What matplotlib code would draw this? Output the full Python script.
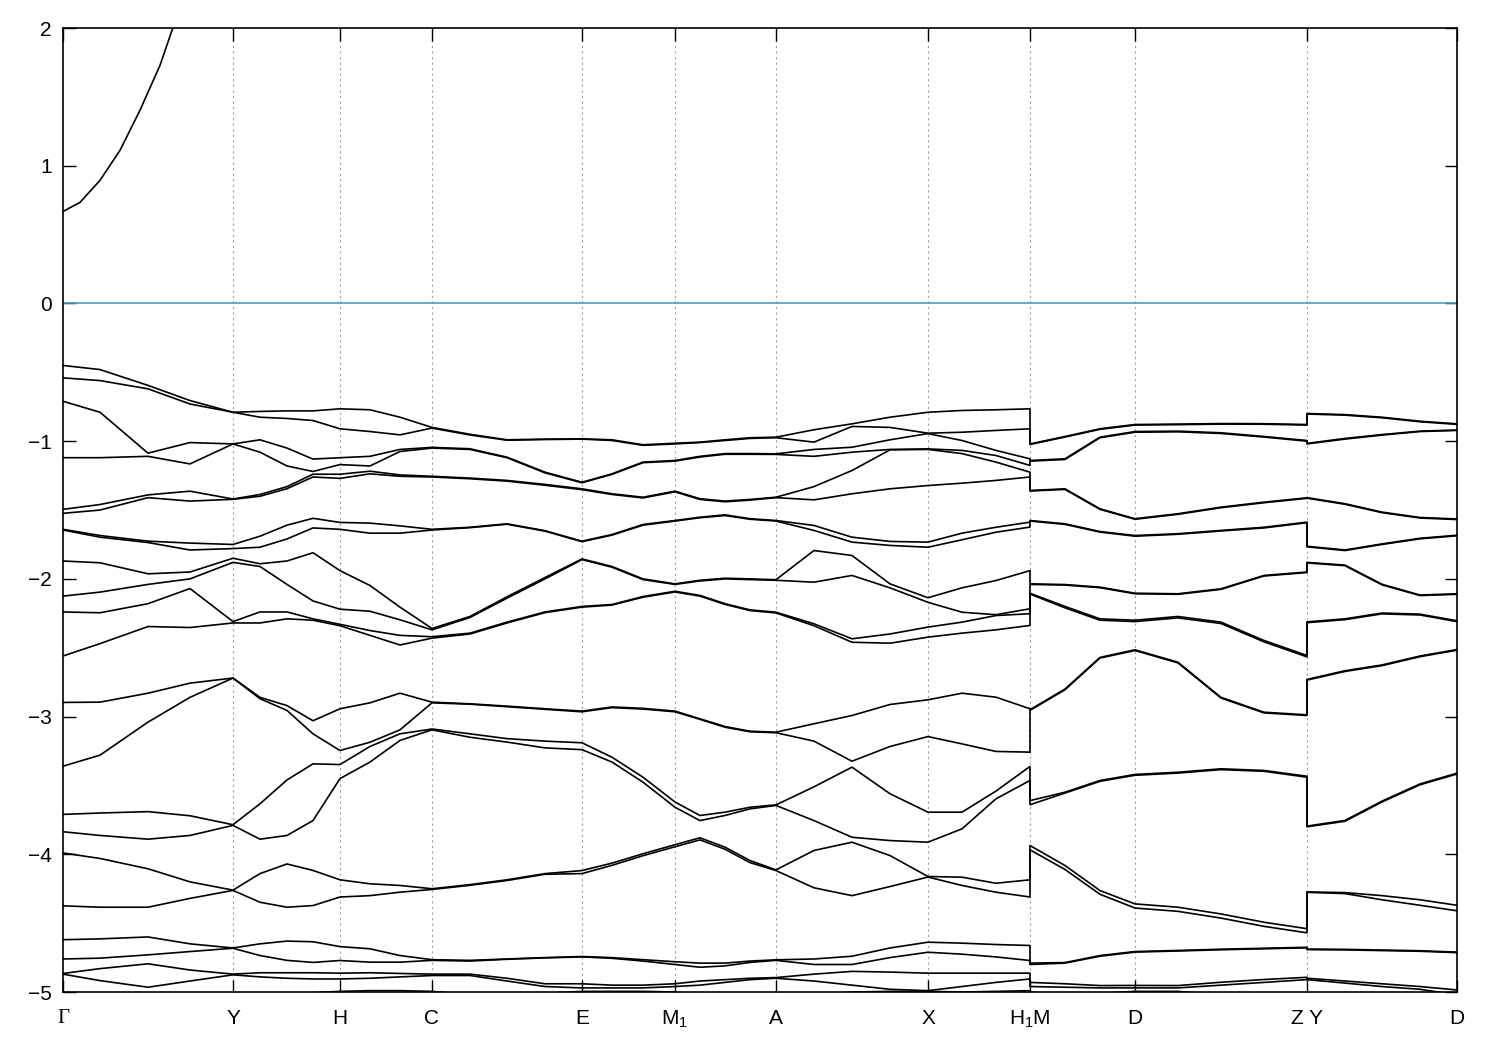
import matplotlib
matplotlib.use("Agg")
import matplotlib.pyplot as plt

plt.rcParams['font.family'] = ['Liberation Sans', 'DejaVu Sans']
plt.rcParams['mathtext.fontset'] = 'custom'
plt.rcParams['mathtext.rm'] = 'Liberation Sans'
plt.rcParams['mathtext.it'] = 'Liberation Sans'

# high symmetry points along the path
kpts = [0.000, 0.170, 0.277, 0.369, 0.519, 0.612, 0.713, 0.865, 0.967, 1.072, 1.244, 1.394]
klabels = ['Γ', 'Y', 'H', 'C', 'E', r'M$_1$', 'A', 'X', r'H$_1$M', 'D', 'Z Y', 'D']

# sample positions (H1|M and Z|Y are repeated: path break)
k_cols = [0.000, 0.037, 0.085, 0.127, 0.170,
          0.197, 0.224, 0.250, 0.277,
          0.307, 0.337, 0.369,
          0.407, 0.444, 0.482, 0.519,
          0.549, 0.580, 0.612,
          0.637, 0.662, 0.687, 0.713,
          0.751, 0.789, 0.827, 0.865,
          0.899, 0.933, 0.967,
          0.967, 1.002, 1.037, 1.072,
          1.115, 1.158, 1.201, 1.244,
          1.244, 1.282, 1.319, 1.357, 1.394]

# conduction band near Gamma
cb_k = [0.000, 0.017, 0.037, 0.057, 0.077, 0.097, 0.109, 0.127]
cb_E = [0.668, 0.734, 0.894, 1.112, 1.403, 1.729, 1.983, 2.4]

band1 = [-0.45, -0.48, -0.595, -0.705, -0.79,
         -0.784, -0.78, -0.78, -0.765,
         -0.772, -0.826, -0.90,
         -0.95, -0.99, -0.985, -0.983,
         -0.99, -1.026, -1.015,
         -1.007, -0.99, -0.975, -0.971,
         -0.917, -0.874, -0.826, -0.79,
         -0.777, -0.772, -0.765,
         -1.02, -0.966, -0.91, -0.879,
         -0.876, -0.872, -0.873, -0.879,
         -0.799, -0.807, -0.826, -0.855, -0.874]
band2 = [-0.54, -0.56, -0.62, -0.73, -0.79,
         -0.826, -0.835, -0.85, -0.91,
         -0.93, -0.954, -0.905,
         -0.955, -0.993, -0.988, -0.985,
         -0.995, -1.03, -1.02,
         -1.01, -0.995, -0.98, -0.975,
         -1.007, -0.893, -0.90, -0.942,
         -0.935, -0.922, -0.91,
         -1.024, -0.97, -0.914, -0.883,
         -0.88, -0.876, -0.877, -0.883,
         -0.803, -0.811, -0.83, -0.859, -0.878]
band3 = [-0.71, -0.79, -1.087, -1.01, -1.02,
         -0.99, -1.05, -1.13, -1.12,
         -1.11, -1.06, -1.045,
         -1.055, -1.116, -1.225, -1.298,
         -1.237, -1.152, -1.14,
         -1.11, -1.09, -1.09, -1.092,
         -1.06, -1.044, -0.99, -0.945,
         -0.995, -1.067, -1.128,
         -1.14, -1.128, -0.971, -0.93,
         -0.927, -0.939, -0.966, -0.995,
         -1.016, -0.98, -0.952, -0.927, -0.919]
band4 = [-1.12, -1.12, -1.11, -1.165, -1.02,
         -1.08, -1.18, -1.22, -1.17,
         -1.18, -1.075, -1.05,
         -1.06, -1.12, -1.23, -1.302,
         -1.241, -1.156, -1.145,
         -1.115, -1.095, -1.095, -1.096,
         -1.11, -1.08, -1.06, -1.056,
         -1.067, -1.104, -1.176,
         -1.145, -1.133, -0.975, -0.935,
         -0.932, -0.944, -0.97, -1.0,
         -1.02, -0.985, -0.956, -0.93, -0.922]
band5 = [-1.495, -1.46, -1.39, -1.363, -1.42,
         -1.387, -1.33, -1.24, -1.24,
         -1.218, -1.245, -1.255,
         -1.268, -1.285, -1.314, -1.346,
         -1.382, -1.407, -1.363,
         -1.418, -1.435, -1.423, -1.407,
         -1.33, -1.213, -1.063, -1.06,
         -1.09, -1.152, -1.225,
         -1.358, -1.346, -1.491, -1.563,
         -1.527, -1.479, -1.443, -1.411,
         -1.41, -1.454, -1.515, -1.554, -1.565]
band6 = [-1.524, -1.50, -1.41, -1.435, -1.422,
         -1.40, -1.345, -1.26, -1.27,
         -1.237, -1.255, -1.26,
         -1.273, -1.29, -1.32, -1.352,
         -1.387, -1.412, -1.368,
         -1.423, -1.44, -1.428, -1.41,
         -1.426, -1.382, -1.346, -1.322,
         -1.305, -1.285, -1.26,
         -1.362, -1.35, -1.495, -1.567,
         -1.531, -1.483, -1.447, -1.415,
         -1.414, -1.458, -1.519, -1.558, -1.569]
band7 = [-1.64, -1.685, -1.726, -1.74, -1.75,
         -1.69, -1.61, -1.56, -1.59,
         -1.595, -1.615, -1.64,
         -1.625, -1.60, -1.65, -1.726,
         -1.678, -1.605, -1.576,
         -1.552, -1.535, -1.563, -1.576,
         -1.612, -1.697, -1.728, -1.733,
         -1.668, -1.625, -1.588,
         -1.576, -1.60, -1.656, -1.685,
         -1.672, -1.648, -1.625, -1.588,
         -1.763, -1.79, -1.746, -1.705, -1.683]
band8 = [-1.645, -1.697, -1.736, -1.79, -1.78,
         -1.77, -1.71, -1.63, -1.64,
         -1.668, -1.668, -1.645,
         -1.628, -1.603, -1.653, -1.73,
         -1.682, -1.61, -1.58,
         -1.556, -1.54, -1.567, -1.58,
         -1.648, -1.733, -1.757, -1.77,
         -1.716, -1.661, -1.624,
         -1.58, -1.604, -1.66, -1.69,
         -1.676, -1.652, -1.63, -1.592,
         -1.767, -1.794, -1.75, -1.709, -1.687]
band9 = [-1.87, -1.883, -1.963, -1.95, -1.85,
         -1.89, -1.87, -1.81, -1.94,
         -2.048, -2.205, -2.36,
         -2.273, -2.13, -1.99, -1.855,
         -1.91, -2.0, -2.036,
         -2.01, -1.995, -2.0, -2.006,
         -1.794, -1.83, -2.036, -2.137,
         -2.065, -2.012, -1.94,
         -2.036, -2.041, -2.06, -2.104,
         -2.108, -2.072, -1.975, -1.95,
         -1.88, -1.90, -2.039, -2.117, -2.108]
band10 = [-2.125, -2.096, -2.04, -2.0, -1.88,
          -1.91, -2.04, -2.16, -2.22,
          -2.235, -2.297, -2.37,
          -2.28, -2.14, -2.0, -1.86,
          -1.915, -2.005, -2.04,
          -2.015, -2.0, -2.005, -2.01,
          -2.024, -1.975, -2.065, -2.17,
          -2.242, -2.26, -2.217,
          -2.04, -2.045, -2.064, -2.108,
          -2.112, -2.076, -1.979, -1.954,
          -1.884, -1.904, -2.043, -2.121, -2.112]
band11 = [-2.24, -2.246, -2.18, -2.07, -2.31,
          -2.24, -2.24, -2.29, -2.33,
          -2.375, -2.41, -2.42,
          -2.394, -2.314, -2.24, -2.2,
          -2.186, -2.128, -2.09,
          -2.12, -2.18, -2.225, -2.242,
          -2.326, -2.435, -2.40, -2.35,
          -2.314, -2.266, -2.253,
          -2.104, -2.20, -2.29, -2.30,
          -2.273, -2.314, -2.447, -2.556,
          -2.312, -2.29, -2.248, -2.256, -2.304]
band12 = [-2.56, -2.47, -2.346, -2.353, -2.32,
          -2.32, -2.29, -2.30, -2.34,
          -2.41, -2.48, -2.43,
          -2.40, -2.32, -2.245, -2.205,
          -2.19, -2.133, -2.095,
          -2.125, -2.185, -2.23, -2.247,
          -2.34, -2.46, -2.467, -2.423,
          -2.394, -2.37, -2.338,
          -2.11, -2.21, -2.30, -2.31,
          -2.283, -2.324, -2.457, -2.566,
          -2.318, -2.296, -2.254, -2.262, -2.31]
band13 = [-2.897, -2.895, -2.83, -2.757, -2.72,
          -2.86, -2.92, -3.03, -2.943,
          -2.90, -2.83, -2.895,
          -2.907, -2.924, -2.943, -2.96,
          -2.93, -2.94, -2.96,
          -3.016, -3.072, -3.106, -3.113,
          -3.052, -2.992, -2.912, -2.878,
          -2.83, -2.859, -2.943,
          -2.95, -2.80, -2.57, -2.515,
          -2.605, -2.86, -2.968, -2.987,
          -2.73, -2.667, -2.625, -2.56, -2.513]
band14 = [-3.36, -3.28, -3.04, -2.86, -2.72,
          -2.87, -2.955, -3.125, -3.246,
          -3.186, -3.096, -2.90,
          -2.91, -2.928, -2.947, -2.965,
          -2.935, -2.945, -2.965,
          -3.02, -3.077, -3.11, -3.117,
          -3.178, -3.324, -3.217, -3.145,
          -3.198, -3.253, -3.258,
          -2.955, -2.805, -2.575, -2.52,
          -2.61, -2.865, -2.973, -2.992,
          -2.735, -2.672, -2.63, -2.565, -2.518]
band15 = [-3.71, -3.70, -3.69, -3.72, -3.785,
          -3.633, -3.46, -3.343, -3.348,
          -3.217, -3.125, -3.09,
          -3.125, -3.16, -3.178, -3.19,
          -3.295, -3.44, -3.62,
          -3.718, -3.694, -3.658, -3.641,
          -3.51, -3.367, -3.56, -3.694,
          -3.694, -3.541, -3.362,
          -3.61, -3.549, -3.464, -3.42,
          -3.404, -3.379, -3.391, -3.433,
          -3.795, -3.754, -3.614, -3.489, -3.411]
band16 = [-3.836, -3.863, -3.89, -3.863, -3.79,
          -3.89, -3.863, -3.755, -3.45,
          -3.33, -3.173, -3.096,
          -3.15, -3.185, -3.227, -3.24,
          -3.33, -3.476, -3.658,
          -3.755, -3.718, -3.67, -3.645,
          -3.755, -3.876, -3.90, -3.912,
          -3.815, -3.597, -3.464,
          -3.64, -3.555, -3.47, -3.426,
          -3.41, -3.385, -3.397, -3.44,
          -3.80, -3.76, -3.62, -3.495, -3.417]
band17 = [-3.99, -4.03, -4.105, -4.2, -4.26,
          -4.14, -4.07, -4.117, -4.185,
          -4.214, -4.226, -4.25,
          -4.22, -4.185, -4.14, -4.118,
          -4.064, -3.996, -3.93,
          -3.88, -3.948, -4.045, -4.113,
          -3.972, -3.912, -4.009, -4.161,
          -4.166, -4.21, -4.185,
          -3.936, -4.081, -4.263, -4.36,
          -4.384, -4.433, -4.493, -4.54,
          -4.273, -4.278, -4.30, -4.33, -4.37]
band18 = [-4.374, -4.384, -4.384, -4.32, -4.262,
          -4.348, -4.384, -4.372, -4.31,
          -4.30, -4.275, -4.255,
          -4.225, -4.19, -4.145, -4.14,
          -4.08, -4.01, -3.945,
          -3.895, -3.963, -4.06, -4.118,
          -4.243, -4.30, -4.234, -4.165,
          -4.226, -4.275, -4.31,
          -3.967, -4.11, -4.29, -4.39,
          -4.414, -4.463, -4.523, -4.57,
          -4.276, -4.285, -4.33, -4.37, -4.41]
band19 = [-4.62, -4.614, -4.60, -4.65, -4.68,
          -4.65, -4.63, -4.635, -4.67,
          -4.686, -4.735, -4.765,
          -4.77, -4.76, -4.75, -4.742,
          -4.75, -4.765, -4.78,
          -4.79, -4.79, -4.775, -4.766,
          -4.76, -4.74, -4.68, -4.638,
          -4.645, -4.655, -4.662,
          -4.79, -4.786, -4.735, -4.706,
          -4.698, -4.689, -4.682, -4.675,
          -4.688, -4.69, -4.695, -4.70, -4.71]
band20 = [-4.76, -4.754, -4.73, -4.706, -4.682,
          -4.735, -4.77, -4.785, -4.771,
          -4.783, -4.783, -4.77,
          -4.775, -4.762, -4.752, -4.745,
          -4.755, -4.775, -4.80,
          -4.82, -4.81, -4.785, -4.77,
          -4.80, -4.80, -4.75, -4.711,
          -4.725, -4.745, -4.771,
          -4.80, -4.79, -4.74, -4.71,
          -4.702, -4.693, -4.686, -4.679,
          -4.692, -4.694, -4.699, -4.704, -4.714]
band21 = [-4.865, -4.83, -4.795, -4.84, -4.87,
          -4.86, -4.86, -4.86, -4.863,
          -4.86, -4.865, -4.87,
          -4.87, -4.90, -4.94, -4.94,
          -4.95, -4.95, -4.94,
          -4.92, -4.91, -4.90, -4.895,
          -4.87, -4.85, -4.855, -4.863,
          -4.863, -4.863, -4.863,
          -4.93, -4.94, -4.953, -4.952,
          -4.953, -4.929, -4.909, -4.893,
          -4.90, -4.92, -4.94, -4.96, -4.985]
band22 = [-4.87, -4.917, -4.965, -4.92, -4.875,
          -4.89, -4.90, -4.905, -4.905,
          -4.90, -4.89, -4.88,
          -4.88, -4.92, -4.96, -4.97,
          -4.97, -4.97, -4.96,
          -4.95, -4.93, -4.91, -4.90,
          -4.92, -4.95, -4.98, -4.99,
          -4.96, -4.93, -4.905,
          -4.96, -4.965, -4.97, -4.97,
          -4.97, -4.95, -4.93, -4.91,
          -4.91, -4.935, -4.96, -4.98, -5.02]
band23 = [-5.15, -5.12, -5.10, -5.08, -5.06,
          -5.04, -5.02, -5.005, -4.995,
          -4.99, -4.99, -4.995,
          -5.02, -5.03, -5.01, -4.995,
          -4.995, -4.995, -5.0,
          -5.02, -5.03, -5.02, -5.01,
          -5.02, -5.0, -4.995, -4.995,
          -5.0, -4.995, -4.99,
          -5.0, -5.02, -5.01, -4.995,
          -4.995, -5.02, -5.05, -5.08,
          -5.06, -5.08, -5.1, -5.1, -5.1]

bands = [band1, band2, band3, band4, band5, band6, band7, band8, band9, band10, band11, band12,
         band13, band14, band15, band16, band17, band18, band19, band20, band21, band22, band23]

fig = plt.figure(figsize=(15, 10.5), dpi=100)
ax = fig.add_axes([0.042, 0.0552, 0.9293, 0.9181])

for k in kpts[1:-1]:
    ax.axvline(k, color='#a0a0a0', lw=0.8, ls=(0, (2, 3)), zorder=1)
ax.axhline(0, color='#3ca0dc', lw=1.2, zorder=2)

ax.plot(cb_k, cb_E, color='black', lw=1.2, zorder=3)
for b in bands:
    ax.plot(k_cols, b, color='black', lw=1.2, zorder=3)

ax.set_xlim(kpts[0], kpts[-1])
ax.set_ylim(-5, 2)
ax.set_yticks(range(-5, 3))
ax.set_xticks(kpts)
ax.set_xticklabels(klabels)
ax.tick_params(direction='in', length=9, width=1, labelsize=15, top=True, right=True, pad=8)
ax.tick_params(axis='x', pad=12)
for s in ax.spines.values():
    s.set_linewidth(1.2)
ax.get_xticklabels()[0].set_fontfamily('Liberation Serif')

fig.savefig('out.png', dpi=100)
